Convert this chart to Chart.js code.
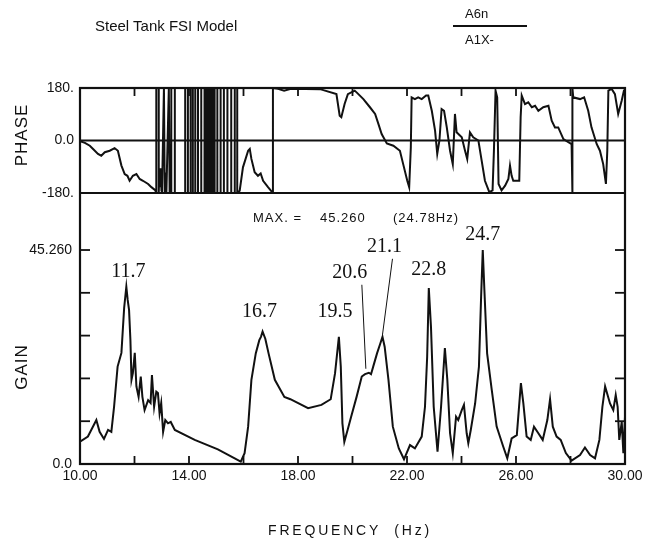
<!DOCTYPE html>
<html>
<head>
<meta charset="utf-8">
<script src="https://cdn.jsdelivr.net/npm/chart.js@4.4.1/dist/chart.umd.min.js"></script>
<style>
  body { margin: 0; background: #fff; }
  #wrap { position: relative; width: 661px; height: 551px; font-family: 'Liberation Sans', Arial, sans-serif; color: #111; }
  #fsi { position: absolute; left: 0; top: 0; }
  .lbl { position: absolute; white-space: nowrap; line-height: 1; }
  #title { left: 95px; top: 18px; font-size: 15px; }
  #num { left: 465px; top: 7px; font-size: 13px; }
  #bar { position: absolute; left: 453px; top: 25px; width: 74px; height: 2px; background: #111; }
  #den { left: 465px; top: 33px; font-size: 13px; }
  .side { font-size: 17px; transform: translate(-50%, -50%) rotate(-90deg); letter-spacing: 1px; }
  #phaseTitle { left: 21px; top: 135px; }
  #gainTitle { left: 21px; top: 367px; }
  #freqTitle { left: 350px; top: 530px; font-size: 14px; letter-spacing: 2.8px; transform: translate(-50%, -50%); }
</style>
</head>
<body>
<div id="wrap">
  <canvas id="fsi" width="661" height="551"></canvas>
  <div class="lbl" id="title">Steel Tank FSI Model</div>
  <div class="lbl" id="num">A6n</div>
  <div id="bar"></div>
  <div class="lbl" id="den">A1X-</div>
  <div class="lbl side" id="phaseTitle">PHASE</div>
  <div class="lbl side" id="gainTitle">GAIN</div>
  <div class="lbl" id="freqTitle">FREQUENCY &nbsp;(Hz)</div>
</div>
<script>
const INK = '#111';
const SANS = "'Liberation Sans', Arial, sans-serif";

// frequency axis
const xTicks = [10, 12, 14, 16, 18, 20, 22, 24, 26, 28, 30];
const xLabelled = [10, 14, 18, 22, 26, 30];

// gain axis: labelled at 0 and at the peak value, minor ticks in fifths
const gainTicks = [0, 9.052, 18.104, 27.156, 36.208, 45.26];
const gainLabels = ['0.0', '', '', '', '', '45.260'];
const gainTop = 57.32;

// phase axis
const phaseTicks = [-180, 0, 180];
const phaseLabels = ['-180.', '0.0', '180.'];

// gain curve
const gainHz = [
  10.00, 10.29, 10.60, 10.72, 10.88, 11.03, 11.15, 11.25, 11.38, 11.52,
  11.62, 11.70, 11.75, 11.80, 11.85, 11.89, 11.94, 12.01, 12.07, 12.15,
  12.23, 12.29, 12.37, 12.50, 12.59, 12.64, 12.72, 12.80, 12.86, 12.92,
  12.98, 13.05, 13.13, 13.23, 13.33, 13.48, 14.21, 15.06, 15.90, 16.04,
  16.17, 16.29, 16.45, 16.58, 16.64, 16.70, 16.80, 16.92, 17.15, 17.50,
  17.72, 18.37, 18.86, 19.20, 19.36, 19.50, 19.57, 19.63, 19.70, 19.82,
  19.95, 20.15, 20.34, 20.46, 20.60, 20.68, 20.76, 20.90, 21.02, 21.10,
  21.18, 21.32, 21.48, 21.70, 21.89, 22.11, 22.29, 22.54, 22.66, 22.74,
  22.80, 22.88, 22.98, 23.12, 23.25, 23.39, 23.48, 23.58, 23.68, 23.80,
  23.88, 24.01, 24.09, 24.19, 24.25, 24.34, 24.50, 24.64, 24.72, 24.78,
  24.84, 24.94, 25.11, 25.29, 25.53, 25.68, 25.84, 26.03, 26.18, 26.27,
  26.39, 26.54, 26.66, 26.82, 26.98, 27.15, 27.25, 27.35, 27.49, 27.64,
  27.83, 28.04, 28.35, 28.53, 28.72, 28.90, 29.06, 29.17, 29.27, 29.45,
  29.57, 29.66, 29.73, 29.79, 29.88, 29.94, 30.00
];
const gain = [
  4.7, 5.8, 9.3, 6.8, 5.3, 7.2, 6.8, 12.1, 20.6, 23.5,
  33.0, 37.5, 34.7, 32.6, 26.2, 17.8, 19.2, 23.5, 16.4, 14.2,
  18.5, 14.2, 11.4, 13.5, 12.9, 18.8, 12.1, 15.3, 15.0, 10.7,
  12.9, 6.8, 9.3, 8.6, 8.9, 7.2, 5.1, 3.1, 0.5, 2.3,
  7.9, 17.8, 23.4, 26.2, 26.9, 28.0, 26.5, 23.4, 17.8, 14.2,
  13.7, 11.8, 12.5, 13.7, 19.2, 26.9, 20.6, 8.6, 4.7, 7.2,
  10.0, 14.2, 18.5, 19.0, 19.3, 19.0, 20.6, 23.4, 25.5, 26.9,
  24.8, 17.8, 7.9, 3.3, 1.0, 4.0, 3.3, 5.8, 12.1, 22.7,
  37.2, 29.0, 12.1, 2.6, 12.1, 24.5, 17.8, 6.5, 2.3, 10.0,
  9.3, 11.4, 12.5, 6.5, 4.4, 7.2, 12.8, 20.6, 35.4, 45.26,
  36.8, 23.4, 15.7, 7.9, 3.7, 1.2, 5.4, 6.1, 17.1, 12.8,
  5.8, 5.1, 7.9, 6.5, 5.1, 9.3, 13.7, 7.9, 5.8, 5.1,
  2.3, 0.7, 1.9, 3.5, 1.9, 1.2, 5.1, 12.1, 16.4, 12.8,
  11.4, 14.6, 12.1, 5.1, 8.9, 2.3, 10.0
];

// phase curve (wrapped to +-180)
const phaseHz = [
  10.00, 10.18, 10.36, 10.48, 10.66, 10.78, 10.91, 11.09, 11.27, 11.39,
  11.52, 11.64, 11.74, 11.82, 11.94, 12.07, 12.19, 12.31, 12.50, 12.62,
  12.76, 12.80, 12.80, 12.89, 12.89, 12.91, 12.93, 12.96, 12.99, 13.01,
  13.01, 13.08, 13.08, 13.11, 13.13, 13.15, 13.17, 13.17, 13.26, 13.26,
  13.29, 13.31, 13.33, 13.35, 13.35, 13.48, 13.48, 13.86, 13.86, 13.96,
  13.96, 14.06, 14.06, 14.14, 14.14, 14.23, 14.23, 14.33, 14.33, 14.45,
  14.45, 14.57, 14.57, 14.61, 14.61, 14.65, 14.65, 14.69, 14.69, 14.73,
  14.73, 14.77, 14.77, 14.81, 14.81, 14.85, 14.85, 14.89, 14.89, 14.94,
  14.94, 15.04, 15.04, 15.16, 15.16, 15.28, 15.28, 15.41, 15.41, 15.55,
  15.55, 15.68, 15.68, 15.77, 15.77, 15.86, 15.98, 16.17, 16.23, 16.29,
  16.41, 16.53, 16.63, 16.72, 16.90, 17.05, 17.08, 17.08, 17.27, 17.49,
  17.74, 18.81, 19.41, 19.53, 19.59, 19.71, 19.83, 20.08, 20.15, 20.40,
  20.64, 20.83, 20.95, 21.07, 21.26, 21.50, 21.74, 21.86, 22.01, 22.08,
  22.14, 22.17, 22.29, 22.41, 22.54, 22.70, 22.78, 22.91, 23.03, 23.11,
  23.19, 23.27, 23.36, 23.46, 23.58, 23.68, 23.76, 23.82, 24.01, 24.13,
  24.21, 24.31, 24.43, 24.62, 24.74, 24.86, 25.02, 25.14, 25.19, 25.25,
  25.31, 25.36, 25.47, 25.60, 25.72, 25.78, 25.84, 25.90, 26.12, 26.17,
  26.21, 26.33, 26.45, 26.58, 26.70, 26.82, 27.00, 27.19, 27.31, 27.43,
  27.55, 27.74, 27.92, 28.04, 28.07, 28.07, 28.10, 28.35, 28.50, 28.65,
  28.77, 28.96, 29.08, 29.20, 29.30, 29.35, 29.39, 29.51, 29.63, 29.75,
  29.88, 29.96, 30.00
];
const phaseDeg = [
  -2, -8, -18, -29, -46, -52, -40, -35, -26, -35,
  -86, -115, -121, -138, -121, -115, -132, -138, -149, -160,
  -170, -180, 180, 180, -180, -105, -160, -95, -175, -120,
  -180, 180, 180, -180, -110, -150, -130, -180, 180, 180,
  -180, -140, -170, -180, 180, 180, -180, -180, 180, 180,
  -180, -180, 180, 180, -180, -180, 180, 180, -180, -180,
  180, 180, -180, -180, 180, 180, -180, -180, 180, 180,
  -180, -180, 180, 180, -180, -180, 180, 180, -180, -180,
  180, 180, -180, -180, 180, 180, -180, -180, 180, 180,
  -180, -180, 180, 180, -180, -172, -92, -35, -29, -63,
  -109, -121, -113, -138, -160, -177, -180, 180, 177, 171,
  177, 176, 159, 85, 80, 125, 159, 171, 165, 142,
  114, 91, 57, 22, -10, -18, -35, -81, -138, -160,
  -24, 148, 142, 148, 142, 154, 154, 102, 34, -46,
  0, 108, 102, 45, -35, -81, 91, 28, 11, -35,
  -63, 28, 11, 0, -69, -138, -177, -171, -35, 171,
  148, -149, -171, -155, -132, -86, -121, -138, -138, 80,
  154, 125, 131, 114, 119, 102, 114, 119, 68, 45,
  45, 5, -6, -12, -180, 180, 148, 142, 148, 102,
  45, -12, -35, -81, -149, -35, 171, 177, 159, 91,
  137, 171, 175
];

// annotated resonances
const peakHz = [11.7, 16.7, 19.5, 20.6, 21.1, 22.8, 24.78];
const peakText = ['11.7', '16.7', '19.5', '20.6', '21.1', '22.8', '24.7'];
const peakGain = peakHz.map(f => gain[gainHz.indexOf(f)]);

// label offset from its peak, in px; leader lines for the crowded pair
const notePlacement = [[2, -15], [-3, -20], [-4, -25], [-19, -100], [2, -90], [0, -18], [0, -15]];
const noteLeader = [null, null, null, [12, 12, -3, -4], [8, 12, 0, -2], null, null];

const toPoints = (xs, ys) => xs.map((f, i) => ({ x: f, y: ys[i] }));

function line(ctx, x1, y1, x2, y2) {
    ctx.beginPath();
    ctx.moveTo(x1, y1);
    ctx.lineTo(x2, y2);
    ctx.stroke();
}

const panelFrame = {
    id: 'panelFrame',
    afterDatasetsDraw(chart) {
        const { ctx, chartArea: a, scales } = chart;
        const x = scales.x, g = scales.yGain, p = scales.yPhase;
        ctx.save();
        ctx.strokeStyle = INK;
        ctx.lineWidth = 2.2;
        ctx.strokeRect(a.left, a.top, a.right - a.left, a.bottom - a.top);
        line(ctx, a.left, p.bottom, a.right, p.bottom);
        const zero = p.getPixelForValue(0);
        line(ctx, a.left, zero, a.right, zero);

        // inward tick marks
        ctx.lineWidth = 1.8;
        x.ticks.forEach(t => {
            const px = x.getPixelForValue(t.value);
            line(ctx, px, a.bottom, px, a.bottom - 8);
            line(ctx, px, a.top, px, a.top + 8);
        });
        g.ticks.forEach(t => {
            const py = g.getPixelForValue(t.value);
            line(ctx, a.left, py, a.left + 10, py);
            line(ctx, a.right, py, a.right - 10, py);
        });
        ctx.restore();
    }
};

const peakNotes = {
    id: 'peakNotes',
    afterDatasetsDraw(chart) {
        const { ctx, scales: { x, yGain, yPhase } } = chart;
        ctx.save();
        ctx.fillStyle = INK;
        ctx.strokeStyle = INK;
        ctx.lineWidth = 1;
        ctx.font = '20px "Liberation Serif", "Times New Roman", serif';
        ctx.textAlign = 'center';
        ctx.textBaseline = 'middle';
        peakText.forEach((txt, i) => {
            const px = x.getPixelForValue(peakHz[i]);
            const py = yGain.getPixelForValue(peakGain[i]);
            const lx = px + notePlacement[i][0];
            const ly = py + notePlacement[i][1];
            ctx.fillText(txt, lx, ly);
            const ld = noteLeader[i];
            if (ld) line(ctx, lx + ld[0], ly + ld[1], px + ld[2], py + ld[3]);
        });

        // maximum readout
        const top = Math.max(...gain);
        const at = gainHz[gain.indexOf(top)];
        const y = yPhase.bottom + 25;
        ctx.font = '13px ' + SANS;
        if ('letterSpacing' in ctx) ctx.letterSpacing = '1px';
        ctx.textAlign = 'left';
        ctx.fillText('MAX. =', 253, y);
        ctx.fillText(top.toFixed(3), 320, y);
        ctx.fillText('(' + at.toFixed(2) + 'Hz)', 393, y);
        ctx.restore();
    }
};

const tickFont = { family: SANS, size: 14 };

new Chart(document.getElementById('fsi'), {
    type: 'line',
    data: {
        datasets: [
            {
                label: 'Gain',
                data: toPoints(gainHz, gain),
                yAxisID: 'yGain',
                borderColor: INK,
                borderWidth: 2,
                pointRadius: 0,
                tension: 0
            },
            {
                label: 'Phase',
                data: toPoints(phaseHz, phaseDeg),
                yAxisID: 'yPhase',
                borderColor: INK,
                borderWidth: 2,
                pointRadius: 0,
                tension: 0
            }
        ]
    },
    options: {
        responsive: false,
        animation: false,
        devicePixelRatio: 1,
        layout: { padding: { top: 88, right: 36, left: 0, bottom: 0 } },
        plugins: {
            legend: { display: false },
            tooltip: { enabled: false }
        },
        scales: {
            x: {
                type: 'linear',
                position: 'bottom',
                min: 10,
                max: 30,
                grid: { display: false, drawTicks: false },
                border: { display: false },
                afterBuildTicks: s => { s.ticks = xTicks.map(v => ({ value: v })); },
                afterFit: s => { s.height = 87; },
                ticks: {
                    padding: 4,
                    autoSkip: false,
                    maxRotation: 0,
                    color: INK,
                    font: tickFont,
                    callback: v => xLabelled.includes(v) ? v.toFixed(2) : ''
                }
            },
            yGain: {
                type: 'linear',
                position: 'left',
                stack: 'panels',
                stackWeight: 271,
                min: 0,
                max: gainTop,
                grid: { display: false, drawTicks: false },
                border: { display: false },
                afterBuildTicks: s => { s.ticks = gainTicks.map(v => ({ value: v })); },
                afterFit: s => { s.width = 80; },
                ticks: {
                    padding: 8,
                    color: INK,
                    font: tickFont,
                    callback: (v, i) => gainLabels[i]
                }
            },
            yPhase: {
                type: 'linear',
                position: 'left',
                stack: 'panels',
                stackWeight: 105,
                min: -180,
                max: 180,
                grid: { display: false, drawTicks: false },
                border: { display: false },
                afterBuildTicks: s => { s.ticks = phaseTicks.map(v => ({ value: v })); },
                afterFit: s => { s.width = 80; },
                ticks: {
                    padding: 6,
                    color: INK,
                    font: tickFont,
                    callback: (v, i) => phaseLabels[i]
                }
            }
        }
    },
    plugins: [panelFrame, peakNotes]
});
</script>
</body>
</html>
